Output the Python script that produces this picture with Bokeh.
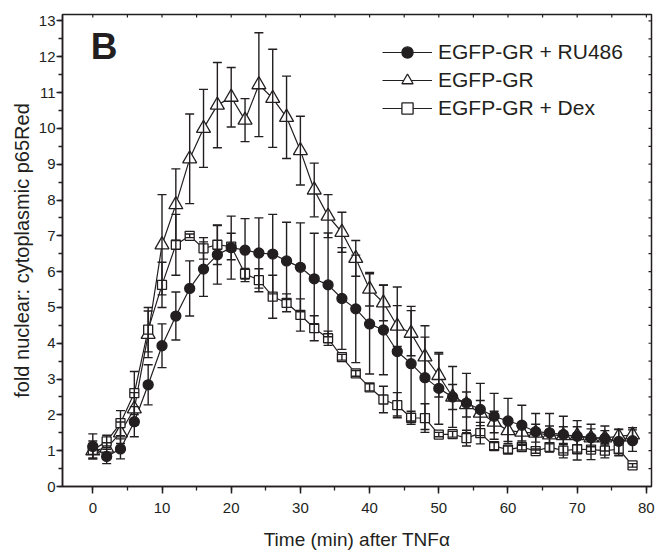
from bokeh.plotting import figure
from bokeh.models import (ColumnDataSource, Whisker, TeeHead, Legend, LegendItem,
                          SingleIntervalTicker, Range1d, Label)
from bokeh.embed import file_html
from bokeh.resources import INLINE

# ---------------- data ----------------
time_min = list(range(0, 80, 2))

ru486 = [1.12, 0.84, 1.05, 1.81, 2.84, 3.93, 4.76, 5.53, 6.07, 6.47,
         6.67, 6.60, 6.52, 6.49, 6.30, 6.12, 5.80, 5.63, 5.25, 4.96,
         4.54, 4.37, 3.77, 3.43, 3.04, 2.74, 2.50, 2.33, 2.15, 1.96,
         1.83, 1.71, 1.53, 1.50, 1.45, 1.40, 1.36, 1.34, 1.26, 1.28]
ru486_err = [0.35, 0.20, 0.28, 0.42, 0.56, 0.61, 0.67, 0.77, 0.76, 0.82,
             0.88, 0.88, 0.98, 1.11, 1.08, 1.24, 1.27, 1.45, 1.42, 1.50,
             1.40, 1.25, 1.80, 1.60, 1.45, 1.00, 0.85, 0.83, 0.73, 0.64,
             0.63, 0.56, 0.51, 0.54, 0.51, 0.44, 0.38, 0.35, 0.33, 0.30]

gr = [1.00, 1.07, 1.50, 2.17, 4.25, 6.75, 7.87, 9.15, 10.00, 10.65,
      10.87, 10.23, 11.22, 10.84, 10.31, 9.38, 8.28, 7.55, 7.10, 6.37,
      5.51, 5.13, 4.48, 4.28, 3.62, 3.10, 2.50, 2.29, 2.05, 1.80,
      1.56, 1.52, 1.49, 1.44, 1.42, 1.42, 1.36, 1.36, 1.40, 1.44]
gr_err = [0.20, 0.15, 0.30, 0.45, 0.65, 1.40, 1.00, 1.25, 1.09, 1.19,
          0.83, 0.60, 1.45, 1.37, 1.15, 0.96, 0.75, 0.60, 0.56, 0.50,
          0.47, 0.50, 0.57, 0.63, 0.55, 0.60, 0.35, 0.35, 0.35, 0.30,
          0.30, 0.25, 0.25, 0.25, 0.25, 0.25, 0.25, 0.20, 0.20, 0.20]

dex = [1.02, 1.26, 1.77, 2.61, 4.38, 5.63, 6.75, 7.00, 6.65, 6.75,
       6.70, 5.94, 5.76, 5.30, 5.13, 4.79, 4.42, 4.14, 3.61, 3.16,
       2.77, 2.43, 2.27, 1.92, 1.91, 1.45, 1.46, 1.35, 1.49, 1.13,
       1.03, 1.10, 0.99, 1.10, 1.00, 1.04, 1.03, 1.00, 1.04, 0.59]
dex_err = [0.25, 0.17, 0.35, 0.60, 0.62, 0.63, 0.85, 0.05, 0.30, 0.55,
           0.37, 0.15, 0.32, 0.60, 0.25, 0.45, 0.35, 0.20, 0.08, 0.08,
           0.10, 0.37, 0.35, 0.18, 0.40, 0.06, 0.08, 0.22, 0.30, 0.10,
           0.10, 0.08, 0.06, 0.12, 0.20, 0.30, 0.28, 0.20, 0.18, 0.05]

labels = ["EGFP-GR + RU486", "EGFP-GR", "EGFP-GR + Dex"]
x_ticks_interval = 10
y_ticks_interval = 1
x_frame_ticks = list(range(0, 81, 5))          # ticks along the top edge
y_frame_ticks = [k / 2 for k in range(0, 27)]  # ticks along the right edge

X_MIN, X_MAX = -4.38, 80.74
Y_MIN, Y_MAX = 0.0, 13.18

INK = "#231f20"
FONT = "Liberation Sans"


def make_source(vals, errs):
    return ColumnDataSource(dict(
        t=time_min, v=vals,
        up=[a + b for a, b in zip(vals, errs)],
        lo=[a - b for a, b in zip(vals, errs)],
    ))


p = figure(width=655, height=554, output_backend="svg", toolbar_location=None,
           x_range=Range1d(X_MIN, X_MAX), y_range=Range1d(Y_MIN, Y_MAX),
           min_border_left=62, min_border_right=4, min_border_top=14,
           min_border_bottom=68)
p.grid.visible = False
p.outline_line_color = INK
p.outline_line_width = 1.5
p.background_fill_color = "white"
p.border_fill_color = "white"

p.xaxis.ticker = SingleIntervalTicker(interval=x_ticks_interval, num_minor_ticks=2)
p.yaxis.ticker = SingleIntervalTicker(interval=y_ticks_interval, num_minor_ticks=2)
p.xaxis.axis_label = "Time (min) after TNF\u03b1"
p.yaxis.axis_label = "fold nuclear: cytoplasmic p65Red"

for ax in (p.xaxis[0], p.yaxis[0]):
    ax.axis_line_color = INK
    ax.axis_line_width = 1.5
    ax.major_tick_line_color = INK
    ax.minor_tick_line_color = INK
    ax.major_tick_line_width = 1.5
    ax.minor_tick_line_width = 1.3
    ax.major_tick_in = 0
    ax.minor_tick_in = 0
    ax.minor_tick_out = 4
    ax.major_label_text_font = FONT
    ax.major_label_text_font_size = "15px"
    ax.major_label_text_color = INK
    ax.axis_label_text_font = FONT
    ax.axis_label_text_font_style = "normal"
    ax.axis_label_text_color = INK
p.xaxis.major_tick_out = 7
p.xaxis.major_label_standoff = 9
p.xaxis.axis_label_text_font_size = "19px"
p.xaxis.axis_label_standoff = 13
p.yaxis.major_tick_out = 6
p.yaxis.major_label_standoff = 1
p.yaxis.axis_label_text_font_size = "20px"
p.yaxis.axis_label_standoff = 3

# small inward ticks on the top and right frame edges (about 3 px long)
top_len = 3.0 * (Y_MAX - Y_MIN) / 472.0
right_len = 3.0 * (X_MAX - X_MIN) / 589.0
p.segment(x0=x_frame_ticks, x1=x_frame_ticks,
          y0=[Y_MAX] * len(x_frame_ticks), y1=[Y_MAX - top_len] * len(x_frame_ticks),
          line_color=INK, line_width=1.2)
p.segment(x0=[X_MAX] * len(y_frame_ticks), x1=[X_MAX - right_len] * len(y_frame_ticks),
          y0=y_frame_ticks, y1=y_frame_ticks,
          line_color=INK, line_width=1.2)

series = [
    (ru486, ru486_err, "circle", 10, INK),
    (gr, gr_err, "triangle", 14, "white"),
    (dex, dex_err, "square", 9, "white"),
]

line_rs = []
marker_rs = {}
sources = []
for vals, errs, marker, size, fill in series:
    src = make_source(vals, errs)
    sources.append(src)
    lr = p.line("t", "v", source=src, line_color=INK, line_width=1.2)
    line_rs.append(lr)

# error bars
for src in sources:
    w = Whisker(source=src, base="t", upper="up", lower="lo",
                line_color=INK, line_width=1.4, level="glyph",
                upper_head=TeeHead(size=9, line_color=INK, line_width=1.4),
                lower_head=TeeHead(size=9, line_color=INK, line_width=1.4))
    p.add_layout(w)

# markers: triangles, squares, circles on top
order = [1, 2, 0]
for i in order:
    vals, errs, marker, size, fill = series[i]
    mr = p.scatter("t", "v", source=sources[i], marker=marker, size=size,
                   fill_color=fill, line_color=INK, line_width=1.3)
    marker_rs[i] = mr

items = [LegendItem(label=labels[i], renderers=[line_rs[i], marker_rs[i]])
         for i in range(3)]
legend = Legend(items=items, location=(320, 364),
                border_line_alpha=0, background_fill_alpha=0,
                label_text_font=FONT, label_text_font_size="21px",
                label_text_color=INK,
                glyph_width=50, glyph_height=28, label_height=28,
                spacing=0, padding=0, margin=0, label_standoff=6)
p.add_layout(legend)

p.add_layout(Label(x=-0.3, y=12.3, text="B", text_font=FONT,
                   text_font_size="37px", text_font_style="bold",
                   text_color=INK, text_baseline="middle"))

open("out.html", "w").write(file_html(p, INLINE))
